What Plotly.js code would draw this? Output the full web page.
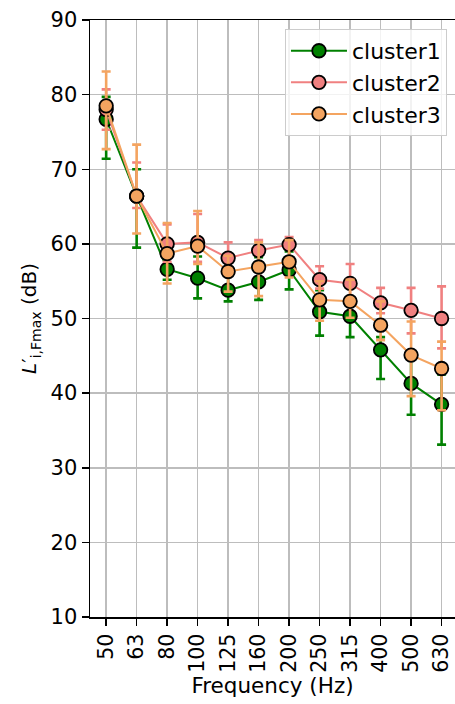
<!DOCTYPE html>
<html>
<head>
<meta charset="utf-8">
<script src="https://cdn.plot.ly/plotly-3.0.1.min.js"></script>
<style>html,body{margin:0;padding:0;background:#fff;}#chart{width:455px;height:704px;}</style>
</head>
<body>
<div id="chart"></div>
<script>
const frequencies = ["50","63","80","100","125","160","200","250","315","400","500","630"];

const cluster1Mean  = [76.7, 66.4, 56.6, 55.4, 53.8, 54.9, 56.5, 50.9, 50.3, 45.8, 41.3, 38.5];
const cluster1Upper = [79.7, 70.0, 58.5, 58.3, 55.8, 58.2, 59.0, 53.8, 52.5, 47.5, 45.0, 42.5];
const cluster1Lower = [71.4, 59.5, 55.2, 52.7, 52.3, 52.5, 53.9, 47.7, 47.5, 41.9, 37.1, 33.1];

const cluster2Mean  = [78.0, 66.4, 60.0, 60.2, 58.1, 59.1, 59.9, 55.2, 54.7, 52.1, 51.1, 50.0];
const cluster2Upper = [80.7, 70.9, 62.6, 64.0, 60.2, 60.5, 60.9, 57.0, 57.3, 54.1, 54.1, 54.3];
const cluster2Lower = [75.3, 64.8, 57.6, 57.6, 56.0, 57.5, 58.2, 54.0, 52.5, 50.7, 48.0, 46.0];

const cluster3Mean  = [78.5, 66.4, 58.7, 59.7, 56.3, 56.9, 57.6, 52.5, 52.3, 49.1, 45.1, 43.3];
const cluster3Upper = [83.1, 73.3, 62.8, 64.4, 58.4, 60.2, 60.5, 55.0, 55.2, 52.3, 49.6, 46.9];
const cluster3Lower = [72.7, 61.4, 54.7, 57.3, 53.6, 53.0, 55.5, 49.7, 50.1, 47.1, 39.6, 37.7];

const seriesNames = ["cluster1", "cluster2", "cluster3"];
const seriesColors = ["#008000", "#F08080", "#F4A460"];

function makeTrace(name, color, mean, upper, lower) {
  return {
    x: frequencies,
    y: mean,
    name: name,
    type: "scatter",
    mode: "lines+markers",
    line: {color: color, width: 2},
    marker: {color: color, size: 13.5, line: {color: "#000000", width: 1.8}},
    error_y: {
      type: "data",
      symmetric: false,
      array: upper.map((u, i) => u - mean[i]),
      arrayminus: lower.map((l, i) => mean[i] - l),
      color: color,
      thickness: 2.6,
      width: 4.5
    }
  };
}

const data = [
  makeTrace(seriesNames[0], seriesColors[0], cluster1Mean, cluster1Upper, cluster1Lower),
  makeTrace(seriesNames[1], seriesColors[1], cluster2Mean, cluster2Upper, cluster2Lower),
  makeTrace(seriesNames[2], seriesColors[2], cluster3Mean, cluster3Upper, cluster3Lower)
];

const fam = "DejaVu Sans, sans-serif";

const layout = {
  width: 455,
  height: 704,
  margin: {l: 90, r: 0, t: 20, b: 87},
  paper_bgcolor: "#ffffff",
  plot_bgcolor: "#ffffff",
  font: {family: fam, size: 21, color: "#000000"},
  showlegend: true,
  legend: {
    x: 0.978, y: 0.985, xanchor: "right", yanchor: "top",
    bgcolor: "rgba(255,255,255,0.8)",
    bordercolor: "#cccccc", borderwidth: 1,
    font: {family: fam, size: 22, color: "#000000"},
    itemwidth: 56
  },
  xaxis: {
    type: "category",
    range: [-0.53, 11.44],
    tickangle: -90,
    tickfont: {family: fam, size: 20.5},
    ticks: "outside", ticklen: 7, tickwidth: 1.5, tickcolor: "#000000",
    showline: true, linecolor: "#000000", linewidth: 1.5, mirror: true,
    showgrid: true, gridcolor: "#bdbdbd", gridwidth: 1.5,
    zeroline: false,
    title: {text: "Frequency (Hz)", font: {family: fam, size: 21.5}, standoff: 2}
  },
  yaxis: {
    range: [10, 90],
    dtick: 10,
    tickfont: {family: fam, size: 21},
    ticks: "outside", ticklen: 7, tickwidth: 1.5, tickcolor: "#000000",
    showline: true, linecolor: "#000000", linewidth: 1.5, mirror: false,
    showgrid: true, gridcolor: "#bdbdbd", gridwidth: 1.5,
    zeroline: false,
    title: {text: "<i>L</i>′<sub>i,Fmax</sub> (dB)", font: {family: fam, size: 20}, standoff: 8}
  }
};

Plotly.newPlot("chart", data, layout, {staticPlot: true, displayModeBar: false});
</script>
</body>
</html>
